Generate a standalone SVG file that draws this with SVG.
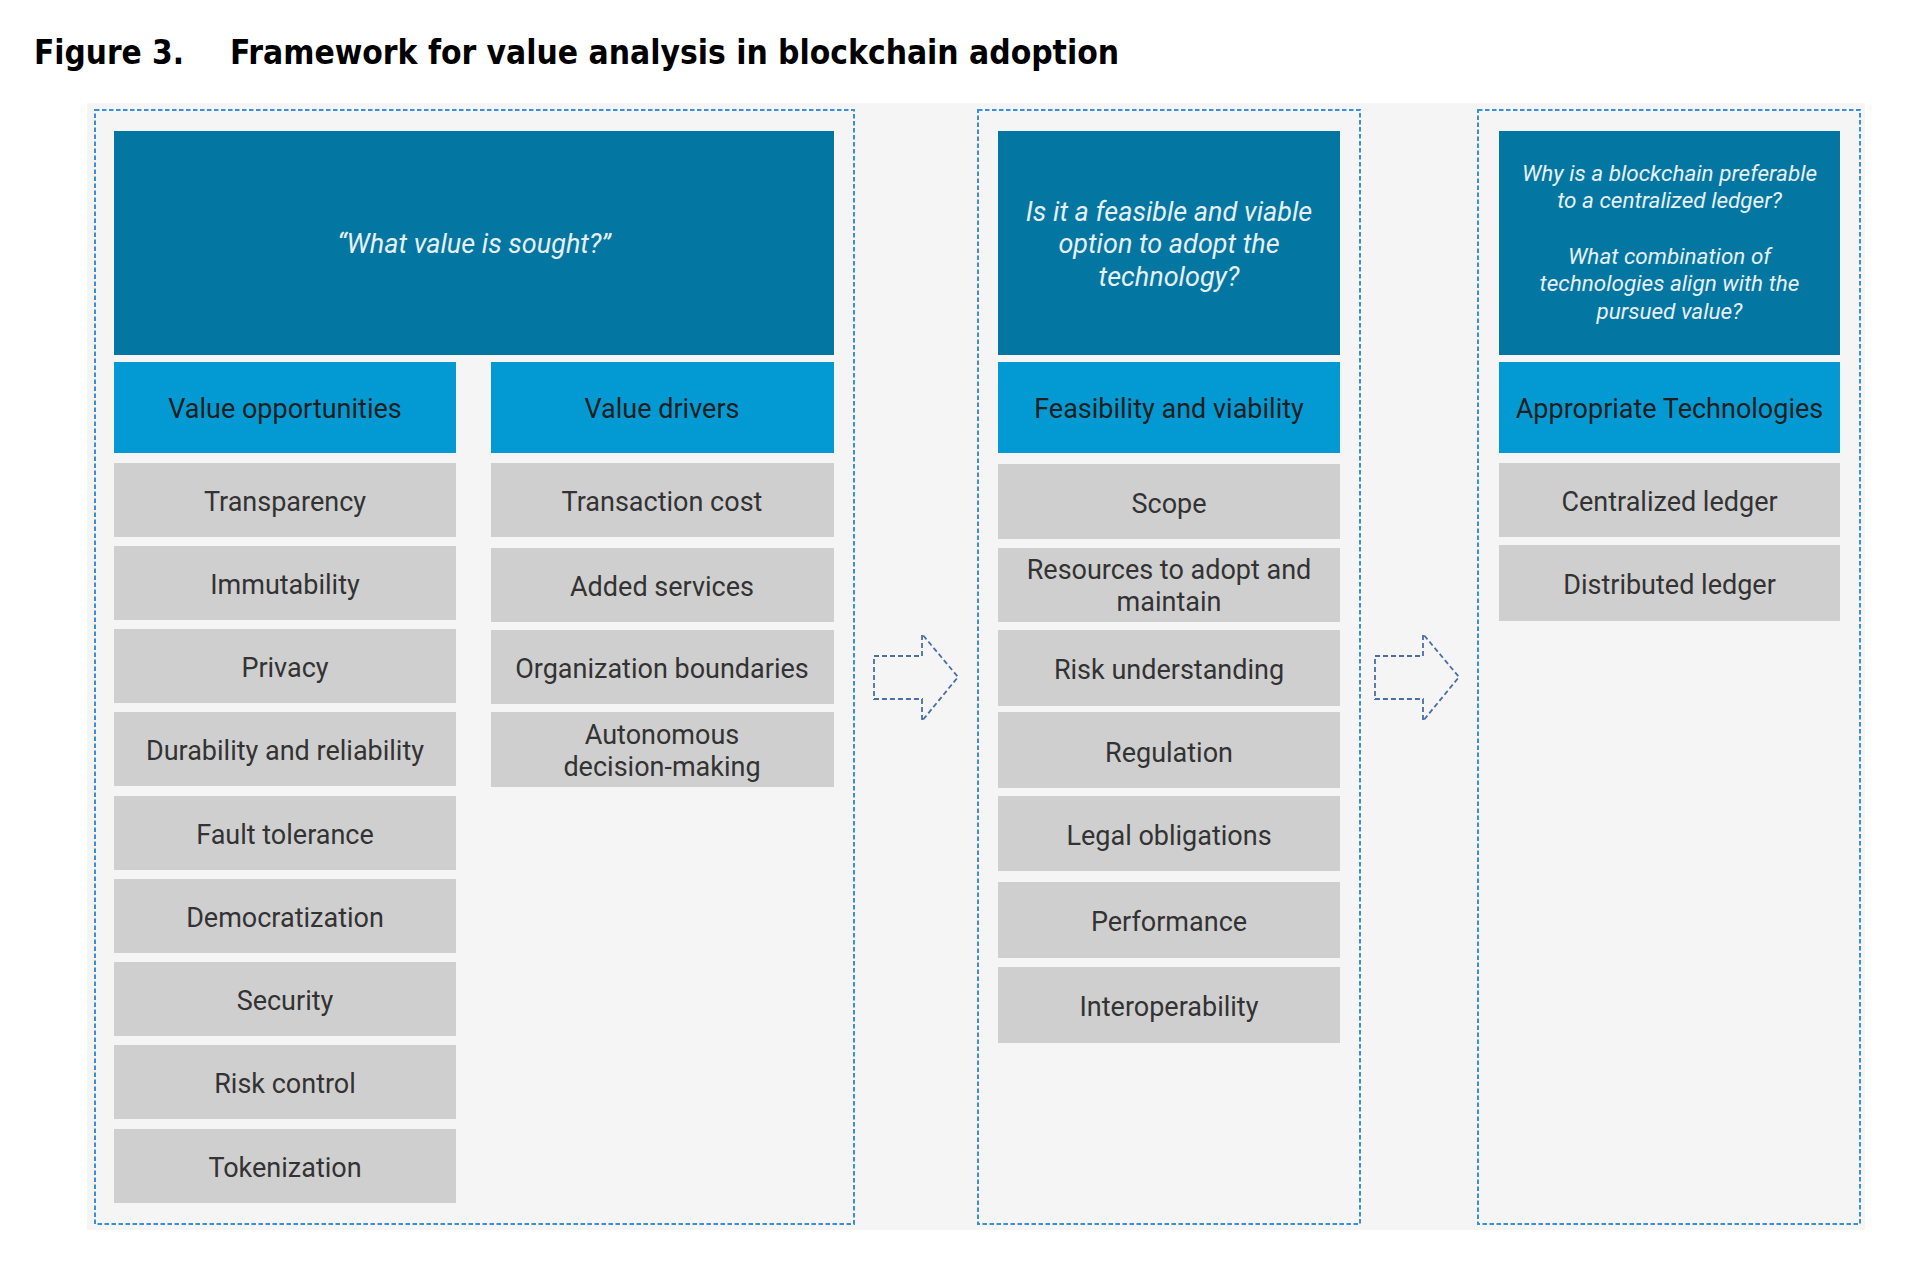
<svg xmlns="http://www.w3.org/2000/svg" width="1921" height="1263" viewBox="0 0 1921 1263">
<style>
.title{font-family:"DejaVu Sans Condensed","DejaVu Sans",sans-serif;font-weight:bold;font-size:33px;fill:#000}
.panel{fill:#f5f5f5}
.frame{fill:none;stroke:#3a8fd8;stroke-width:2;stroke-dasharray:4.5 2.5}
.q{fill:#0377a2}
.h{fill:#039ad4}
.it{fill:#d0cfd0}
.qt{font-family:Roboto,"Liberation Sans",sans-serif;font-style:italic;font-size:27px;fill:#e8eff4;text-anchor:middle}
.qs{font-size:22.5px}
.ht{font-family:Roboto,"Liberation Sans",sans-serif;font-size:27px;fill:#1e1e1e;text-anchor:middle}
.tt{font-family:Roboto,"Liberation Sans",sans-serif;font-size:27px;fill:#333;text-anchor:middle}
.arr{fill:none;stroke:#4a6ea8;stroke-width:1.8;stroke-dasharray:5 3}
</style>
<rect width="1921" height="1263" fill="#fff"/>
<g id="title">
<text class="title" x="34" y="64" textLength="150" lengthAdjust="spacingAndGlyphs">Figure 3.</text>
<text class="title" x="230" y="64" textLength="889" lengthAdjust="spacingAndGlyphs">Framework for value analysis in blockchain adoption</text>
</g>
<rect class="panel" x="87" y="103" width="1778" height="1127"/>
<g id="stage-value">
<rect class="frame" x="95" y="110" width="759" height="1114"/>
<g id="q-value"><rect class="q" x="114" y="131" width="720" height="224"/><text class="qt" x="474" y="253">“What value is sought?”</text></g>
<g id="h-opportunities"><rect class="h" x="114" y="362" width="342" height="91"/><text class="ht" x="285" y="418">Value opportunities</text></g>
<g id="h-drivers"><rect class="h" x="491" y="362" width="343" height="91"/><text class="ht" x="662" y="418">Value drivers</text></g>
<g id="o1"><rect class="it" x="114" y="463" width="342" height="74"/><text class="tt" x="285" y="511">Transparency</text></g>
<g id="o2"><rect class="it" x="114" y="546" width="342" height="74"/><text class="tt" x="285" y="594">Immutability</text></g>
<g id="o3"><rect class="it" x="114" y="629" width="342" height="74"/><text class="tt" x="285" y="677">Privacy</text></g>
<g id="o4"><rect class="it" x="114" y="712" width="342" height="74"/><text class="tt" x="285" y="760">Durability and reliability</text></g>
<g id="o5"><rect class="it" x="114" y="796" width="342" height="74"/><text class="tt" x="285" y="844">Fault tolerance</text></g>
<g id="o6"><rect class="it" x="114" y="879" width="342" height="74"/><text class="tt" x="285" y="927">Democratization</text></g>
<g id="o7"><rect class="it" x="114" y="962" width="342" height="74"/><text class="tt" x="285" y="1010">Security</text></g>
<g id="o8"><rect class="it" x="114" y="1045" width="342" height="74"/><text class="tt" x="285" y="1093">Risk control</text></g>
<g id="o9"><rect class="it" x="114" y="1129" width="342" height="74"/><text class="tt" x="285" y="1177">Tokenization</text></g>
<g id="d1"><rect class="it" x="491" y="463" width="343" height="74"/><text class="tt" x="662" y="511">Transaction cost</text></g>
<g id="d2"><rect class="it" x="491" y="548" width="343" height="74"/><text class="tt" x="662" y="596">Added services</text></g>
<g id="d3"><rect class="it" x="491" y="630" width="343" height="74"/><text class="tt" x="662" y="678">Organization boundaries</text></g>
<g id="d4"><rect class="it" x="491" y="712" width="343" height="75"/><text class="tt" x="662" y="744">Autonomous</text><text class="tt" x="662" y="776">decision-making</text></g>
</g>
<g id="stage-feasibility">
<rect class="frame" x="978" y="110" width="382" height="1114"/>
<g id="q-feasible"><rect class="q" x="998" y="131" width="342" height="224"/><text class="qt" x="1169" y="221">Is it a feasible and viable</text><text class="qt" x="1169" y="253">option to adopt the</text><text class="qt" x="1169" y="286">technology?</text></g>
<g id="h-feasibility"><rect class="h" x="998" y="362" width="342" height="91"/><text class="ht" x="1169" y="418">Feasibility and viability</text></g>
<g id="f1"><rect class="it" x="998" y="464" width="342" height="75"/><text class="tt" x="1169" y="513">Scope</text></g>
<g id="f2"><rect class="it" x="998" y="548" width="342" height="74"/><text class="tt" x="1169" y="579">Resources to adopt and</text><text class="tt" x="1169" y="611">maintain</text></g>
<g id="f3"><rect class="it" x="998" y="630" width="342" height="76"/><text class="tt" x="1169" y="679">Risk understanding</text></g>
<g id="f4"><rect class="it" x="998" y="712" width="342" height="76"/><text class="tt" x="1169" y="762">Regulation</text></g>
<g id="f5"><rect class="it" x="998" y="796" width="342" height="75"/><text class="tt" x="1169" y="845">Legal obligations</text></g>
<g id="f6"><rect class="it" x="998" y="882" width="342" height="76"/><text class="tt" x="1169" y="931">Performance</text></g>
<g id="f7"><rect class="it" x="998" y="967" width="342" height="76"/><text class="tt" x="1169" y="1016">Interoperability</text></g>
</g>
<g id="stage-technology">
<rect class="frame" x="1478" y="110" width="382" height="1114"/>
<g id="q-tech"><rect class="q" x="1499" y="131" width="341" height="224"/><text class="qt qs" x="1669.5" y="181">Why is a blockchain preferable</text><text class="qt qs" x="1669.5" y="208">to a centralized ledger?</text><text class="qt qs" x="1669.5" y="264">What combination of</text><text class="qt qs" x="1669.5" y="291">technologies align with the</text><text class="qt qs" x="1669.5" y="319">pursued value?</text></g>
<g id="h-tech"><rect class="h" x="1499" y="362" width="341" height="91"/><text class="ht" x="1669.5" y="418">Appropriate Technologies</text></g>
<g id="t1"><rect class="it" x="1499" y="463" width="341" height="74"/><text class="tt" x="1669.5" y="511">Centralized ledger</text></g>
<g id="t2"><rect class="it" x="1499" y="545" width="341" height="76"/><text class="tt" x="1669.5" y="594">Distributed ledger</text></g>
</g>
<g id="connectors">
<path class="arr" d="M874 656 H922 V634 L958 677 L922 721 V699 H874 Z"/>
<path class="arr" d="M1375 656 H1423 V634 L1459 677 L1423 721 V699 H1375 Z"/>
</g>
</svg>
